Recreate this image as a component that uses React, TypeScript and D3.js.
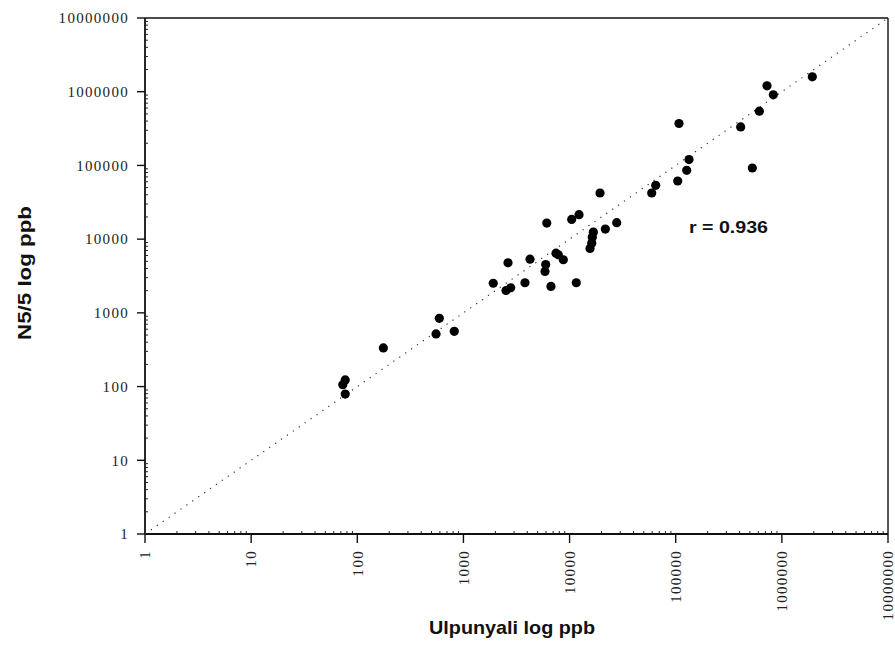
import React from "react";
import * as d3 from "d3";

const xValues = [77, 73, 77, 176, 552, 593, 820, 1910, 2520, 2790, 2630, 3800, 4240, 6100, 6680, 5960, 5870, 7450, 7830, 8730, 11570, 10470, 12270, 19360, 16750, 16180, 15590, 16370, 21720, 27800, 59400, 64800, 104400, 127000, 133400, 107400, 409400, 527000, 613600, 724400, 831000, 1936000];
const yValues = [123, 106, 79, 334, 518, 844, 562, 2520, 2010, 2190, 4780, 2560, 5350, 16500, 2280, 4530, 3640, 6460, 6140, 5250, 2560, 18540, 21480, 42260, 12450, 8830, 7480, 10650, 13680, 16710, 42260, 53700, 61500, 85900, 120200, 370600, 333200, 92300, 544500, 1202000, 907000, 1592000];
const tickValues = [1, 10, 100, 1000, 10000, 100000, 1000000, 10000000];
const tickLabels = ["1", "10", "100", "1000", "10000", "100000", "1000000", "10000000"];
const xTitle = "Ulpunyali log ppb";
const yTitle = "N5/5 log ppb";
const rLabel = "r = 0.936";

export default function App() {
  const W = 895, H = 667;
  const left = 145, right = 888, top = 18, bottom = 534;
  const x = d3.scaleLog().domain([1, 1e7]).range([left, right]);
  const y = d3.scaleLog().domain([1, 1e7]).range([bottom, top]);
  const minor: number[] = [];
  for (let d = 0; d < 7; d++) for (let k = 2; k <= 9; k++) minor.push(k * Math.pow(10, d));
  const serif = "'Liberation Serif', 'DejaVu Serif', serif";
  const sans = "'Liberation Sans', Arial, sans-serif";
  return (
    <svg width={W} height={H} style={{ position: "absolute", left: 0, top: 0, background: "#fff" }}>
      <rect x={0} y={0} width={W} height={H} fill="#fff" />
      <line x1={left} y1={top} x2={right} y2={top} stroke="#111" strokeWidth={1.6} />
      <line x1={right} y1={top} x2={right} y2={bottom} stroke="#111" strokeWidth={1.4} />
      <line x1={left} y1={top} x2={left} y2={bottom} stroke="#111" strokeWidth={1.8} />
      <line x1={left} y1={bottom} x2={right} y2={bottom} stroke="#111" strokeWidth={1.8} />
      {minor.map((v, i) => (
        <g key={"m" + i}>
          <line x1={x(v)} x2={x(v)} y1={bottom} y2={bottom - 3} stroke="#222" strokeWidth={1} />
          <line x1={left} x2={left + 3} y1={y(v)} y2={y(v)} stroke="#222" strokeWidth={1} />
        </g>
      ))}
      {tickValues.map((v, i) => (
        <g key={"t" + i}>
          <line x1={left - 8} x2={left} y1={y(v)} y2={y(v)} stroke="#111" strokeWidth={1.4} />
          <text x={129} y={y(v)} dy="0.35em" textAnchor="end" fontFamily={serif} fontSize={15} letterSpacing={1.3} fill="#222">
            {tickLabels[i]}
          </text>
          <line x1={x(v)} x2={x(v)} y1={bottom} y2={bottom + 9} stroke="#111" strokeWidth={1.4} />
          <text transform={`translate(${x(v)},${550}) rotate(-90)`} dy="0.35em" textAnchor="end" fontFamily={serif} fontSize={15} letterSpacing={1.3} fill="#222">
            {tickLabels[i]}
          </text>
        </g>
      ))}
      <line x1={x(1)} y1={y(1)} x2={x(1e7)} y2={y(1e7)} stroke="#333" strokeWidth={1.2} strokeDasharray="1.2 6" />
      {xValues.map((v, i) => (
        <circle key={"p" + i} cx={x(v)} cy={y(yValues[i])} r={4.6} fill="#000" />
      ))}
      <text x={689} y={233} fontFamily={sans} fontWeight="bold" fontSize={17} textLength={79} lengthAdjust="spacingAndGlyphs" fill="#111">
        {rLabel}
      </text>
      <text x={512} y={634} textAnchor="middle" fontFamily={sans} fontWeight="bold" fontSize={19} textLength={166} lengthAdjust="spacingAndGlyphs" fill="#111">
        {xTitle}
      </text>
      <text transform={`translate(31,273) rotate(-90)`} textAnchor="middle" fontFamily={sans} fontWeight="bold" fontSize={19} textLength={134} lengthAdjust="spacingAndGlyphs" fill="#111">
        {yTitle}
      </text>
    </svg>
  );
}
